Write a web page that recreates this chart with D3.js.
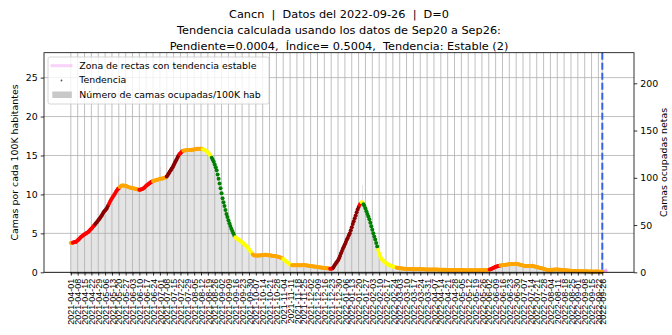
<!DOCTYPE html>
<html><head><meta charset="utf-8">
<script src="https://cdn.jsdelivr.net/npm/d3@7"></script>
<style>
body{margin:0;background:#fff}
svg{display:block;font-family:"DejaVu Sans",sans-serif}
svg text{white-space:pre}
</style>
</head><body>
<svg id="chart" width="672" height="335"></svg>
<script>
// Camas ocupadas por cada 100K habitantes, una cifra por día desde 2021-04-01
const fechaInicio = "2021-04-01";
const fechaCorte = "2022-09-26";
const camas100k = [
  3.76,3.8,3.8,3.85,3.9,3.9,4.0,
  4.1,4.2,4.35,4.5,4.6,4.7,4.8,
  4.9,4.95,5.05,5.1,5.2,5.35,5.5,
  5.6,5.75,5.9,6.05,6.2,6.35,6.5,
  6.7,6.85,7.0,7.2,7.4,7.6,7.8,
  7.95,8.1,8.3,8.55,8.8,9.05,9.3,
  9.5,9.7,9.9,10.1,10.3,10.5,10.7,
  10.8,10.95,11.05,11.15,11.15,11.15,11.1,
  11.1,11.05,11.0,10.95,10.9,10.85,10.85,
  10.8,10.8,10.75,10.7,10.7,10.65,10.6,
  10.6,10.6,10.65,10.7,10.75,10.85,11.0,
  11.1,11.2,11.3,11.4,11.5,11.6,11.65,
  11.7,11.75,11.8,11.85,11.9,11.9,11.95,
  12.0,12.0,12.05,12.05,12.1,12.15,12.2,
  12.3,12.5,12.7,12.9,13.1,13.3,13.5,
  13.75,14.0,14.25,14.5,14.75,15.0,15.2,
  15.3,15.45,15.55,15.6,15.65,15.65,15.7,
  15.7,15.7,15.7,15.7,15.75,15.75,15.75,
  15.8,15.8,15.8,15.85,15.85,15.85,15.85,
  15.85,15.85,15.8,15.75,15.7,15.6,15.5,
  15.4,15.3,15.1,14.9,14.7,14.45,14.2,
  13.85,13.5,13.1,12.55,12.0,11.4,10.8,
  10.15,9.5,9.0,8.5,8.0,7.5,7.1,
  6.7,6.3,5.95,5.6,5.3,5.0,4.7,
  4.5,4.4,4.3,4.2,4.15,4.05,3.95,
  3.85,3.75,3.65,3.5,3.4,3.3,3.15,
  2.95,2.8,2.6,2.45,2.3,2.2,2.15,
  2.15,2.15,2.15,2.15,2.15,2.2,2.2,
  2.2,2.2,2.25,2.25,2.25,2.2,2.2,
  2.2,2.15,2.15,2.1,2.1,2.1,2.05,
  2.05,2.0,2.0,1.95,1.9,1.85,1.8,
  1.7,1.6,1.5,1.4,1.3,1.2,1.1,
  1.0,0.95,0.92,0.9,0.9,0.9,0.9,
  0.9,0.9,0.9,0.9,0.9,0.92,0.93,
  0.93,0.92,0.9,0.88,0.86,0.84,0.82,
  0.8,0.78,0.77,0.75,0.73,0.72,0.7,
  0.68,0.66,0.65,0.63,0.61,0.6,0.58,
  0.56,0.55,0.53,0.51,0.5,0.48,0.47,
  0.47,0.5,0.6,0.8,1.0,1.2,1.35,
  1.55,1.8,2.1,2.45,2.75,3.05,3.3,
  3.6,3.9,4.2,4.45,4.75,5.0,5.4,
  5.8,6.2,6.55,6.95,7.3,7.7,8.05,
  8.4,8.65,8.85,9.0,8.95,8.75,8.5,
  8.2,7.85,7.5,7.15,6.8,6.35,5.9,
  5.45,5.0,4.6,4.2,3.75,3.3,2.85,
  2.4,2.1,1.8,1.65,1.5,1.4,1.3,
  1.2,1.1,1.0,0.95,0.9,0.85,0.8,
  0.76,0.72,0.68,0.64,0.6,0.58,0.56,
  0.54,0.52,0.5,0.48,0.47,0.46,0.45,
  0.44,0.43,0.42,0.42,0.41,0.41,0.4,
  0.4,0.4,0.4,0.39,0.39,0.39,0.39,
  0.38,0.38,0.38,0.38,0.38,0.37,0.37,
  0.37,0.37,0.36,0.36,0.36,0.36,0.36,
  0.35,0.35,0.35,0.35,0.35,0.34,0.34,
  0.33,0.33,0.33,0.32,0.32,0.32,0.31,
  0.31,0.31,0.3,0.3,0.3,0.3,0.3,
  0.29,0.29,0.29,0.29,0.28,0.28,0.28,
  0.28,0.28,0.28,0.27,0.27,0.27,0.27,
  0.27,0.27,0.27,0.26,0.26,0.26,0.26,
  0.26,0.26,0.26,0.26,0.26,0.26,0.26,
  0.26,0.26,0.27,0.27,0.28,0.29,0.3,
  0.32,0.35,0.39,0.45,0.52,0.58,0.64,
  0.7,0.75,0.79,0.82,0.85,0.87,0.89,
  0.91,0.93,0.95,0.96,0.98,1.0,1.02,
  1.03,1.04,1.05,1.06,1.07,1.08,1.09,
  1.1,1.08,1.05,1.01,0.97,0.93,0.89,
  0.86,0.83,0.81,0.8,0.8,0.8,0.8,
  0.8,0.8,0.8,0.8,0.78,0.75,0.72,
  0.69,0.66,0.63,0.6,0.56,0.52,0.48,
  0.45,0.41,0.37,0.33,0.3,0.3,0.31,
  0.32,0.33,0.33,0.34,0.35,0.36,0.36,
  0.36,0.35,0.34,0.33,0.32,0.31,0.3,
  0.28,0.27,0.26,0.24,0.23,0.22,0.2,
  0.19,0.18,0.18,0.17,0.17,0.16,0.16,
  0.15,0.15,0.15,0.14,0.14,0.13,0.13,
  0.12,0.12,0.12,0.11,0.11,0.1,0.1,
  0.1,0.1,0.1,0.09,0.09,0.09,0.09,
  0.09,0.08,0.08,0.08,0.08
];

// Días en que la barra diaria se separa de la curva de tendencia
const picosFecha = ["2021-05-20","2021-07-02","2022-01-24","2022-07-17"];
const picosValor = [12.4, 13.5, 11.2, 1.5];

// Color de la tendencia a partir de cada fecha
const tramosFecha = ["2021-04-01","2021-04-03","2021-04-26","2021-05-10","2021-05-21",
  "2021-06-10","2021-06-24","2021-07-08","2021-07-21","2021-07-25","2021-08-14",
  "2021-08-23","2021-09-16","2021-10-04","2021-11-04","2021-11-13","2021-12-22",
  "2021-12-25","2022-01-21","2022-01-23","2022-01-25","2022-02-09","2022-02-28",
  "2022-06-03","2022-06-14"];
const tramosColor = ["orange","red","darkred","red","orange",
  "red","orange","darkred","red","orange","yellow",
  "green","yellow","orange","yellow","orange","red",
  "darkred","red","yellow","green","yellow","orange",
  "red","orange"];

// Rectas de la zona de tendencia estable (proyección desde la fecha de corte)
const zonaFechas = ["2022-09-26","2022-10-01"];
const zonaRectas = [[0.08,0.0],[0.08,0.12],[0.08,0.25],[0.08,0.38]];

const ticksIzq = [0,5,10,15,20,25];
const ticksDer = [0,50,100,150,200];
const camasPor100k = 8.24;   // camas netas equivalentes a 1 cama/100K hab

const titulo = [
  "Cancn  |  Datos del 2022-09-26  |  D=0",
  "Tendencia calculada usando los datos de Sep20 a Sep26:",
  "Pendiente=0.0004,  Índice= 0.5004,  Tendencia: Estable (2)"
];
const leyenda = ["Zona de rectas con tendencia estable","Tendencia","Número de camas ocupadas/100K hab"];

// ---------- dibujo ----------
const svg = d3.select("#chart");
const M = {l:44, r:634, t:52.7, b:272.3};
const parse = d3.utcParse("%Y-%m-%d");
const fmt = d3.utcFormat("%Y-%m-%d");
const t0 = parse(fechaInicio);
const serie = camas100k.map((v,i)=>({fecha:d3.utcDay.offset(t0,i), v}));
const tFin = parse(zonaFechas[1]);
const spanDias = (tFin - t0)/864e5;
const x = d3.scaleUtc()
  .domain([d3.utcHour.offset(t0, -spanDias*0.05*24), d3.utcHour.offset(tFin, spanDias*0.05*24)])
  .range([M.l, M.r]);
const y = d3.scaleLinear().domain([0, 28.2]).range([M.b, M.t]);
const y2 = d3.scaleLinear().domain([0, 28.2*camasPor100k]).range([M.b, M.t]);

const picos = new Map(picosFecha.map((f,i)=>[f, picosValor[i]]));
const tramos = tramosFecha.map((f,i)=>({fecha:parse(f), color:tramosColor[i]}));
const colorDe = f => { let c = tramos[0].color; for (const t of tramos) if (t.fecha <= f) c = t.color; return c; };

svg.append("defs").append("clipPath").attr("id","area")
  .append("rect").attr("x",M.l).attr("y",M.t).attr("width",M.r-M.l).attr("height",M.b-M.t);

// barras diarias
const dia = x(d3.utcDay.offset(t0,1)) - x(t0);
svg.append("g").selectAll("rect").data(serie).join("rect")
  .attr("x", d=>x(d.fecha)-dia*0.25)
  .attr("width", dia*0.5)
  .attr("y", d=>y(picos.get(fmt(d.fecha)) ?? d.v))
  .attr("height", d=>M.b - y(picos.get(fmt(d.fecha)) ?? d.v))
  .attr("fill","#c8c8c8");

// marcas semanales del eje x
const fCorte = parse(fechaCorte);
const ticksX = d3.utcDay.every(1).range(t0, d3.utcDay.offset(fCorte,1))
  .filter((d,i)=>i%7===0);
if (+ticksX[ticksX.length-1] !== +fCorte) ticksX.push(fCorte);

// rejilla
const grid = svg.append("g").attr("stroke","#b0b0b0").attr("stroke-width",0.8);
grid.selectAll("line.v").data(ticksX).join("line").attr("class","v")
  .attr("x1",d=>x(d)).attr("x2",d=>x(d)).attr("y1",M.t).attr("y2",M.b);
grid.selectAll("line.h").data(ticksIzq).join("line").attr("class","h")
  .attr("x1",M.l).attr("x2",M.r).attr("y1",d=>y(d)).attr("y2",d=>y(d));

// zona de tendencia estable
const zona = svg.append("g").attr("clip-path","url(#area)");
zonaRectas.forEach(r=>{
  zona.append("line")
    .attr("x1",x(parse(zonaFechas[0]))).attr("y1",y(r[0]))
    .attr("x2",x(parse(zonaFechas[1]))).attr("y2",y(r[1]))
    .attr("stroke","#ee82ee").attr("stroke-opacity",0.35).attr("stroke-width",3);
});

// puntos de tendencia
svg.append("g").selectAll("circle").data(serie).join("circle")
  .attr("cx",d=>x(d.fecha)).attr("cy",d=>y(d.v)).attr("r",2)
  .attr("fill",d=>colorDe(d.fecha));

// línea de la fecha de corte
svg.append("line").attr("x1",x(fCorte)).attr("x2",x(fCorte)).attr("y1",M.t).attr("y2",M.b)
  .attr("stroke","#3465e6").attr("stroke-width",2).attr("stroke-dasharray","7,3");

// ejes
const ejeX = d3.axisBottom(x).tickValues(ticksX).tickFormat(fmt).tickSize(3.3).tickPadding(2);
const gx = svg.append("g").attr("transform",`translate(0,${M.b})`).call(ejeX);
gx.select(".domain").remove();
gx.selectAll("text").attr("transform","rotate(-90)").attr("text-anchor","end")
  .attr("x",-6.5).attr("y",0).attr("dy","0.35em").attr("font-size",9).attr("fill","#000");
// marcas diarias menores
svg.append("g").selectAll("line").data(serie).join("line")
  .attr("x1",d=>x(d.fecha)).attr("x2",d=>x(d.fecha)).attr("y1",M.b).attr("y2",M.b+1.9)
  .attr("stroke","#000").attr("stroke-width",0.5);

const gy = svg.append("g").attr("transform",`translate(${M.l},0)`)
  .call(d3.axisLeft(y).tickValues(ticksIzq).tickSize(3.3).tickPadding(3));
gy.select(".domain").remove();
gy.selectAll("text").attr("font-size",9.4).attr("fill","#000").attr("font-family","DejaVu Sans");
const gy2 = svg.append("g").attr("transform",`translate(${M.r},0)`)
  .call(d3.axisRight(y2).tickValues(ticksDer).tickSize(3.3).tickPadding(3));
gy2.select(".domain").remove();
gy2.selectAll("text").attr("font-size",9.4).attr("fill","#000").attr("font-family","DejaVu Sans");
svg.selectAll(".tick line").attr("stroke","#000").attr("stroke-width",0.8);

svg.append("rect").attr("x",M.l).attr("y",M.t).attr("width",M.r-M.l).attr("height",M.b-M.t)
  .attr("fill","none").attr("stroke","#000").attr("stroke-width",0.8);

// títulos de ejes
svg.append("text").attr("transform",`translate(15,${(M.t+M.b)/2}) rotate(-90)`)
  .attr("text-anchor","middle").attr("dy","0.35em").attr("font-size",9.4)
  .text("Camas por cada 100K habitantes");
svg.append("text").attr("transform",`translate(664,${(M.t+M.b)/2}) rotate(-90)`)
  .attr("text-anchor","middle").attr("dy","0.35em").attr("font-size",9.4)
  .text("Camas ocupadas netas");

// título
svg.append("g").selectAll("text").data(titulo).join("text")
  .attr("x",(M.l+M.r)/2).attr("y",(d,i)=>18+i*16).attr("text-anchor","middle")
  .attr("font-size",11.3).text(d=>d);

// leyenda
const lg = svg.append("g");
lg.append("rect").attr("x",48).attr("y",57).attr("width",221).attr("height",47).attr("rx",2)
  .attr("fill","#fff").attr("fill-opacity",0.8).attr("stroke","#cccccc").attr("stroke-width",0.8);
lg.append("line").attr("x1",50.5).attr("x2",72.5).attr("y1",65.7).attr("y2",65.7)
  .attr("stroke","#ee82ee").attr("stroke-opacity",0.35).attr("stroke-width",3);
lg.append("circle").attr("cx",61.5).attr("cy",80.5).attr("r",0.9).attr("fill","#555");
lg.append("rect").attr("x",52.3).attr("y",91.5).attr("width",19.5).attr("height",6.5).attr("fill","#c8c8c8");
lg.selectAll("text.l").data(leyenda).join("text").attr("class","l")
  .attr("x",79.3).attr("y",(d,i)=>65.7+i*14.3).attr("dy","0.35em").attr("font-size",9.4).text(d=>d);
</script>
</body></html>
